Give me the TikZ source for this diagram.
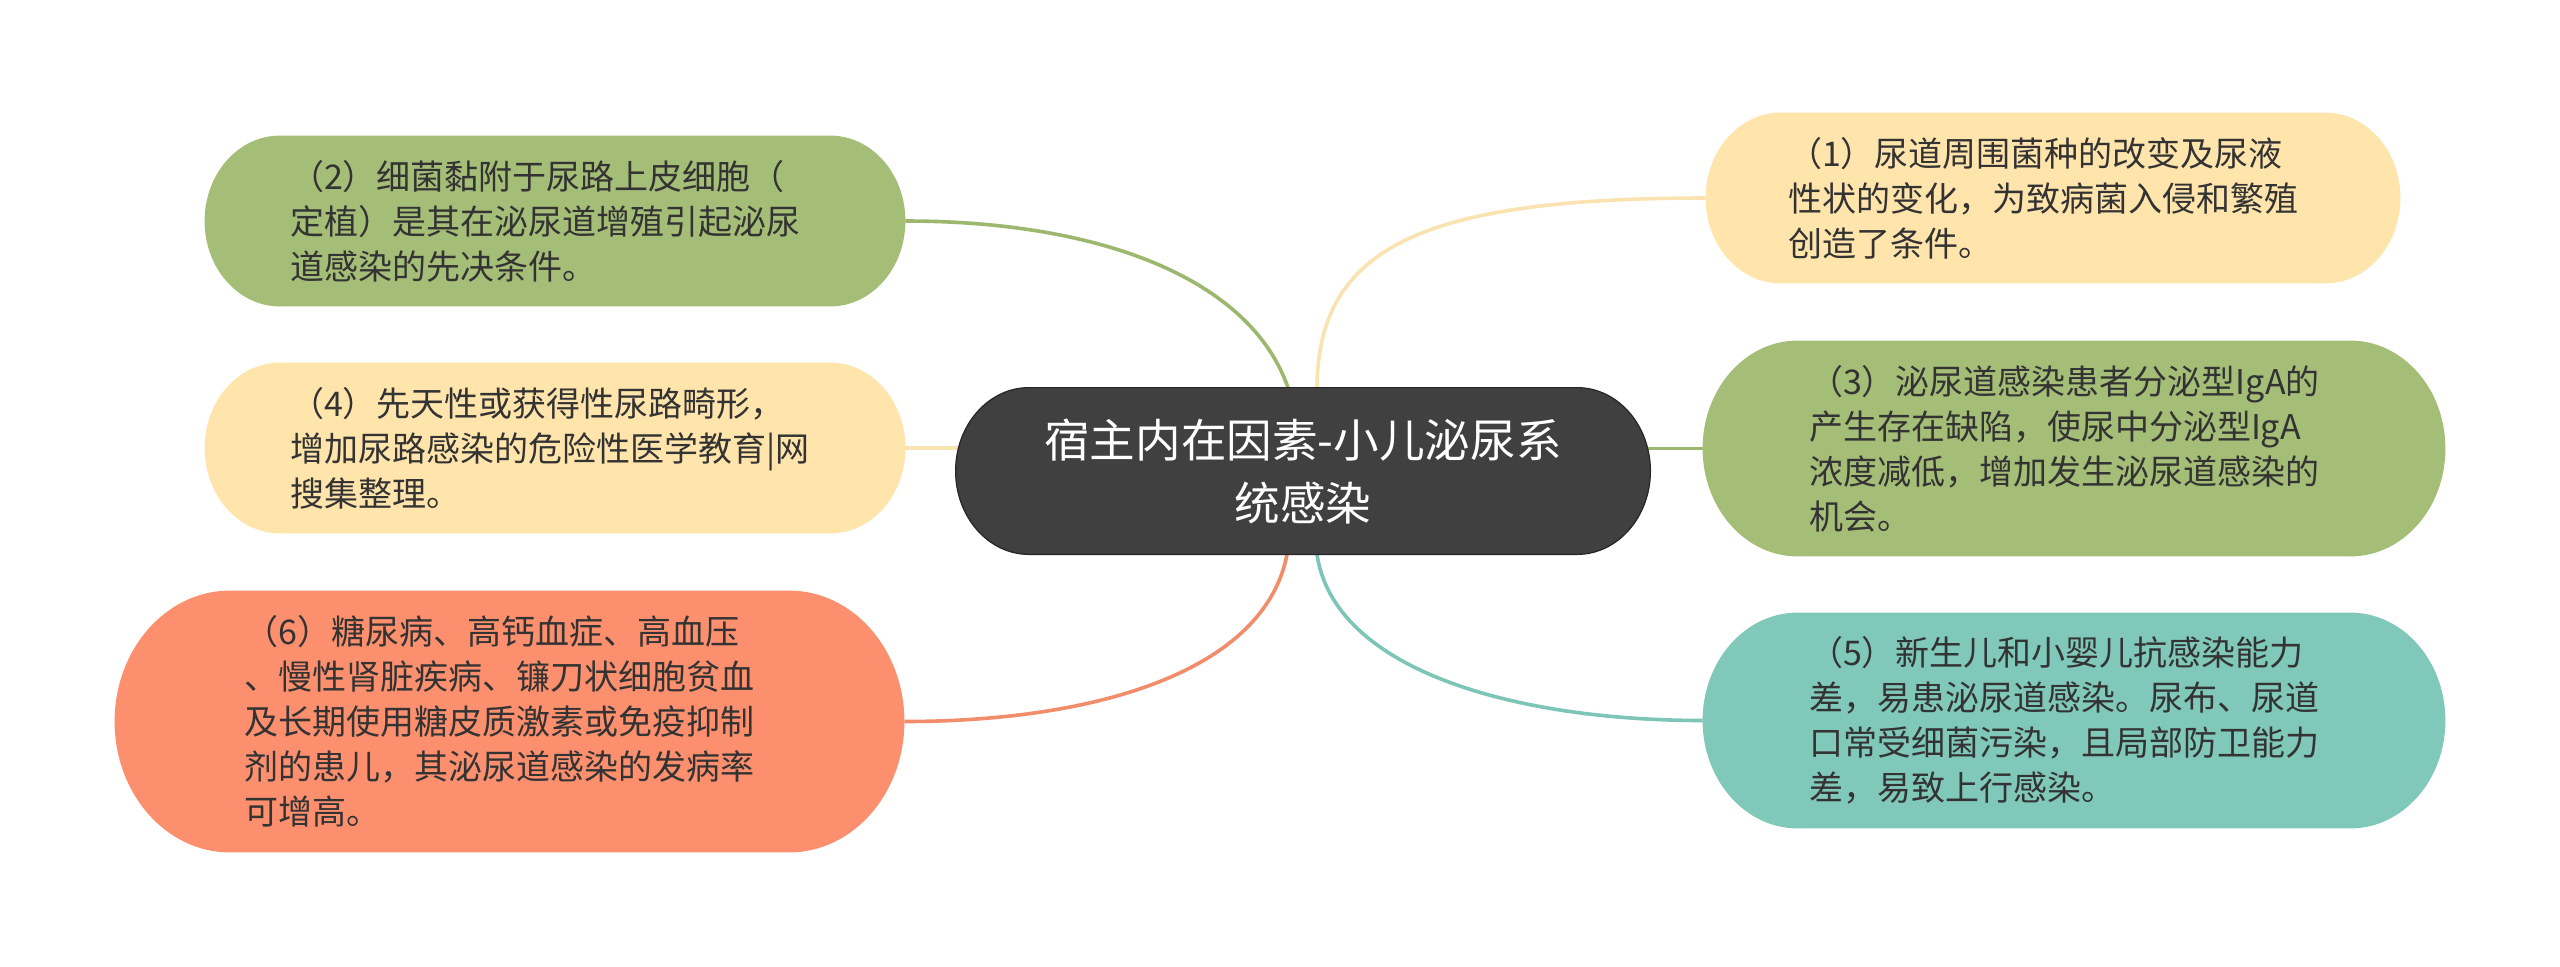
\documentclass[tikz,border=0pt]{standalone}
\usepackage{fontspec}
\setmainfont{Noto Sans CJK SC}
\usetikzlibrary{backgrounds,calc}
\definecolor{cgreen}{HTML}{A4BD77}
\definecolor{cyellow}{HTML}{FFE4AB}
\definecolor{corange}{HTML}{FC8F6D}
\definecolor{cteal}{HTML}{80C8BA}
\definecolor{cdark}{HTML}{404040}
\definecolor{lgreen}{HTML}{9DB86E}
\definecolor{lyellow}{HTML}{FAE3B0}
\definecolor{lorange}{HTML}{F28D6C}
\definecolor{lteal}{HTML}{7CC5B7}
\definecolor{txt}{HTML}{333333}
\newcommand\pillshape[2]{%
  \path[#2] let \p1=(#1.south west), \p2=(#1.north east),
    \n1={(\y2-\y1)/2}, \n2={0.44*(\y2-\y1)} in
    (\x1+\n2,\y1) -- (\x2-\n2,\y1)
    arc[start angle=-90,end angle=90,x radius=\n2,y radius=\n1]
    -- (\x1+\n2,\y2)
    arc[start angle=90,end angle=270,x radius=\n2,y radius=\n1]
    -- cycle;}
\begin{document}
\begin{tikzpicture}[x=0.5pt,y=-0.5pt,
  leaf/.style={text=txt, font=\fontsize{17}{22.5}\selectfont, align=left,
    text width=265pt, inner sep=0pt},
  root/.style={text=white, font=\fontsize{22.8}{31.5}\selectfont, align=center,
    inner sep=0pt},
  conn/.style={line width=1.8pt}]
\useasboundingbox (0,0) rectangle (2560,966);

\node[root, minimum width=347pt, minimum height=83pt] (c) at (1303,471)
  {宿主内在因素-小儿泌尿系\\统感染};

\node[leaf, minimum width=350pt, minimum height=85pt] (n2) at (555,221)
  {（2）细菌黏附于尿路上皮细胞（\\定植）是其在泌尿道增殖引起泌尿\\道感染的先决条件。};
\node[leaf, minimum width=350pt, minimum height=85pt] (n4) at (555,448)
  {（4）先天性或获得性尿路畸形，\\增加尿路感染的危险性医学教育|网\\搜集整理。};
\node[leaf, minimum width=394.5pt, minimum height=130.5pt] (n6) at (509.5,721.5)
  {（6）糖尿病、高钙血症、高血压\\、慢性肾脏疾病、镰刀状细胞贫血\\及长期使用糖皮质激素或免疫抑制\\剂的患儿，其泌尿道感染的发病率\\可增高。};

\node[leaf, minimum width=347pt, minimum height=85pt] (n1) at (2053,198)
  {（1）尿道周围菌种的改变及尿液\\性状的变化，为致病菌入侵和繁殖\\创造了条件。};
\node[leaf, minimum width=371pt, minimum height=107.5pt] (n3) at (2074,448.5)
  {（3）泌尿道感染患者分泌型IgA的\\产生存在缺陷，使尿中分泌型IgA\\浓度减低，增加发生泌尿道感染的\\机会。};
\node[leaf, minimum width=371pt, minimum height=107.5pt] (n5) at (2074,720.5)
  {（5）新生儿和小婴儿抗感染能力\\差，易患泌尿道感染。尿布、尿道\\口常受细菌污染，且局部防卫能力\\差，易致上行感染。};

\begin{scope}[on background layer]
  \fill[white] (0,0) rectangle (2560,966);
  \draw[conn, lgreen] (n2.east) .. controls +(195,0) and +(-38,-109) .. ([xshift=-7.5pt]c.north);
  \draw[conn, lyellow] (n1.west) .. controls +(-286,0) and +(1,-139) .. ([xshift=7pt]c.north);
  \draw[conn, lyellow] (n4.east) -- (n4.east -| c.center);
  \draw[conn, lgreen] (n3.west) -- (n3.west -| c.center);
  \draw[conn, lorange] ([xshift=-8pt]c.south) .. controls +(-22,115) and +(196,0) .. (n6.east);
  \draw[conn, lteal] ([xshift=7pt]c.south) .. controls +(17,115) and +(-190,0) .. (n5.west);
  \pillshape{c}{fill=cdark, draw=black!85, line width=0.6pt}
  \pillshape{n2}{fill=cgreen}
  \pillshape{n4}{fill=cyellow}
  \pillshape{n6}{fill=corange}
  \pillshape{n1}{fill=cyellow}
  \pillshape{n3}{fill=cgreen}
  \pillshape{n5}{fill=cteal}
\end{scope}
\end{tikzpicture}
\end{document}
